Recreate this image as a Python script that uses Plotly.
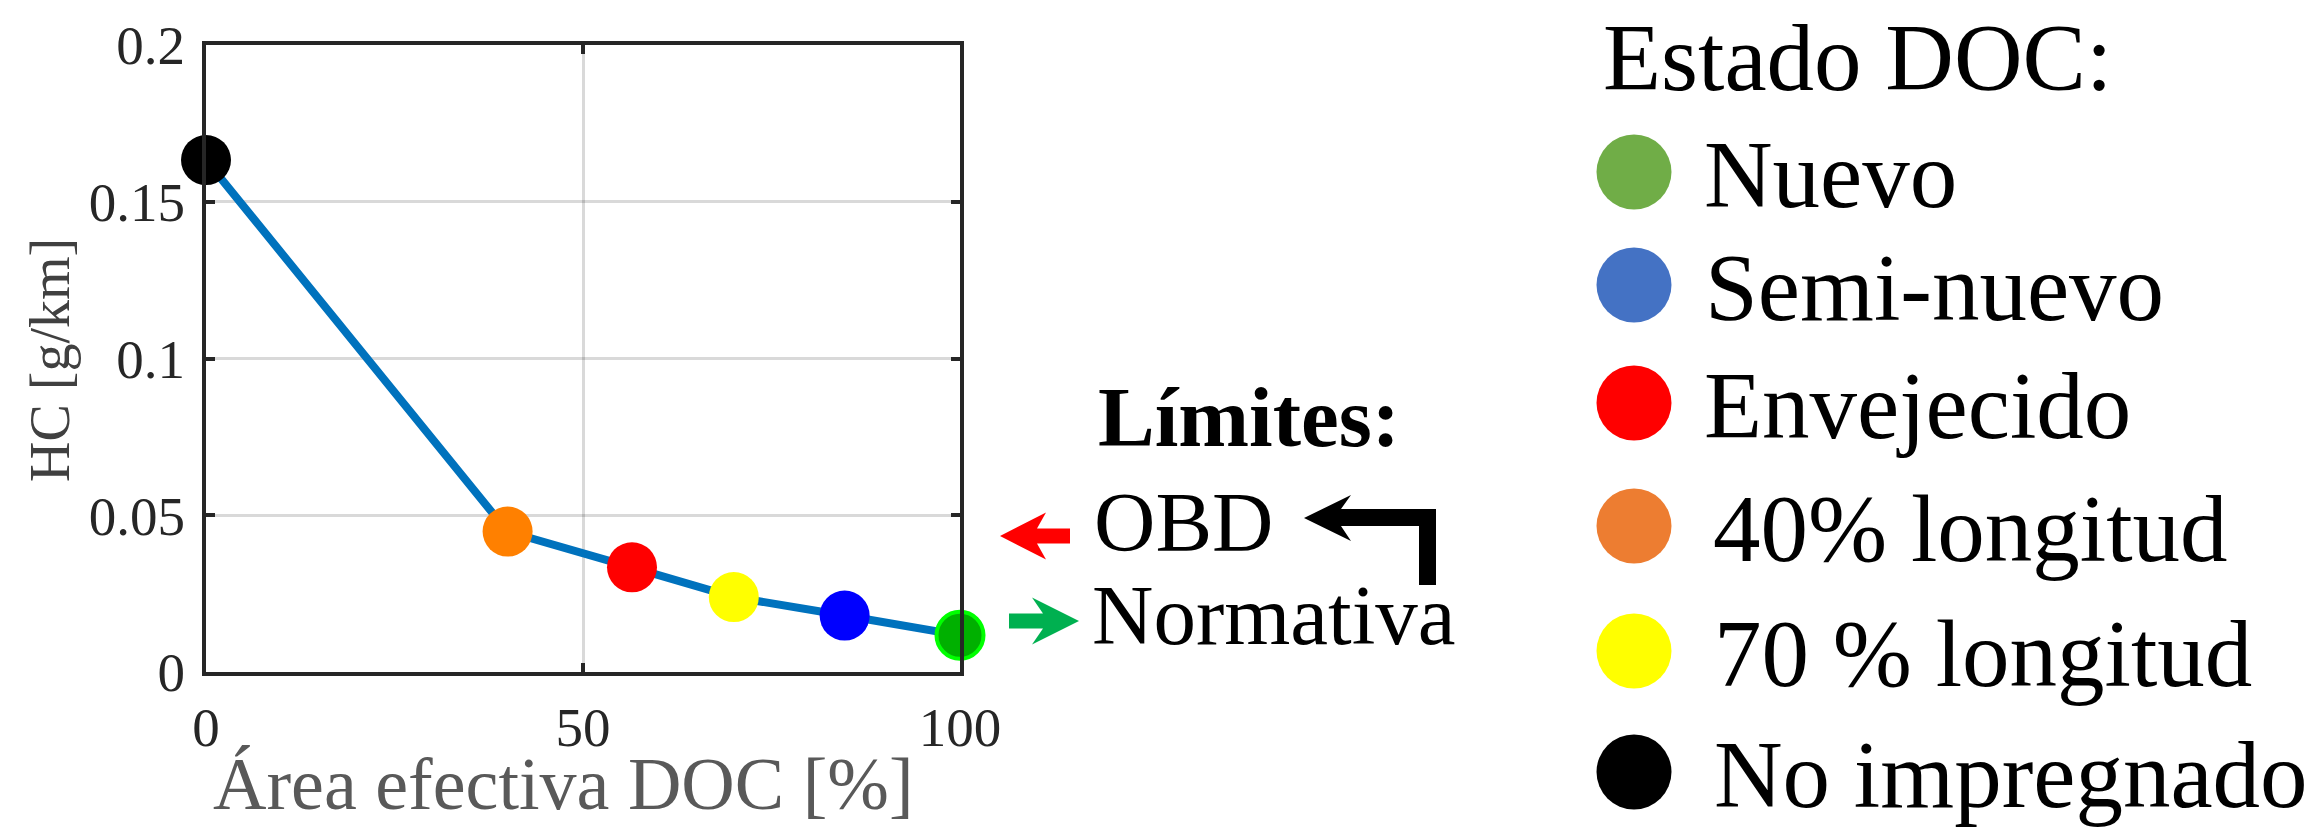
import plotly.graph_objects as go

W, H = 2317, 828

# ---------------- data ----------------
area_pct = [0, 40, 56.5, 70, 84.7, 100]
hc_gkm = [0.1633, 0.0448, 0.0334, 0.0239, 0.0180, 0.0117]
point_colors = ["#000000", "#FF8000", "#FF0000", "#FFFF00", "#0000FF", "#00B000"]
point_edge_colors = ["#000000", "#FF8000", "#FF0000", "#FFFF00", "#0000FF", "#00FF00"]
point_edge_widths = [0, 0, 0, 0, 0, 4]

x_tickvals = [0, 50, 100]
x_ticktext = ["0", "50", "100"]
y_tickvals = [0, 0.05, 0.1, 0.15, 0.2]
y_ticktext = ["0", "0.05", "0.1", "0.15", "0.2"]

x_title = "Área efectiva DOC [%]"
y_title = "HC [g/km]"

legend_title = "Estado DOC:"
legend_labels = ["Nuevo", "Semi-nuevo", "Envejecido", "40% longitud", "70 % longitud", "No impregnado"]
legend_colors = ["#70AD47", "#4472C4", "#FF0000", "#ED7D31", "#FFFF00", "#000000"]

limits_title = "Límites:"
limits_labels = ["OBD", "Normativa"]

# ---------------- layout geometry (pixels) ----------------
PLOT_L, PLOT_R, PLOT_T, PLOT_B = 206, 960, 45, 672
LEG_CIRCLE_X = 1634
LEG_ROW_Y = [172, 285, 403, 526, 651, 772]
LEG_TEXT_X = [1702, 1703, 1702, 1711, 1712, 1712]
LEG_TITLE_X, LEG_TITLE_Y = 1601, 58
LIM_TITLE_X, LIM_TITLE_Y = 1096, 417
LIM_TEXT_X = [1092, 1090]
LIM_TEXT_Y = [522, 615]

SERIF = "Liberation Serif, Times New Roman, serif"


def px(x):
    return x / W


def py(y):
    return 1 - y / H


fig = go.Figure()

# main curve
fig.add_trace(go.Scatter(
    x=area_pct, y=hc_gkm, mode="lines+markers",
    line=dict(color="#0072BD", width=8),
    marker=dict(size=[50, 50, 50, 50, 50, 47], color=point_colors, opacity=1,
                line=dict(color=point_edge_colors, width=point_edge_widths)),
    cliponaxis=False, showlegend=False, hoverinfo="x+y",
    xaxis="x", yaxis="y",
))

# custom legend circles on a full-figure pixel axis (invisible)
fig.add_trace(go.Scatter(
    x=[LEG_CIRCLE_X] * len(legend_labels), y=LEG_ROW_Y, mode="markers",
    marker=dict(size=75, color=legend_colors, opacity=1, line=dict(width=0)),
    cliponaxis=False, showlegend=False, hoverinfo="text", text=legend_labels,
    xaxis="x2", yaxis="y2",
))

annotations = []
# axis titles
annotations.append(dict(x=px(563), y=py(784), xref="paper", yref="paper", text=x_title,
                        showarrow=False, xanchor="center", yanchor="middle",
                        font=dict(family=SERIF, size=74, color="#595959")))
annotations.append(dict(x=px(50), y=py(360), xref="paper", yref="paper", text=y_title,
                        showarrow=False, xanchor="center", yanchor="middle", textangle=-90,
                        font=dict(family=SERIF, size=56, color="#404040")))
# legend
annotations.append(dict(x=px(LEG_TITLE_X), y=py(LEG_TITLE_Y), xref="paper", yref="paper",
                        text=legend_title, showarrow=False, xanchor="left", yanchor="middle",
                        font=dict(family=SERIF, size=95, color="#000000")))
for lab, tx, ty in zip(legend_labels, LEG_TEXT_X, LEG_ROW_Y):
    annotations.append(dict(x=px(tx), y=py(ty + 3), xref="paper", yref="paper", text=lab,
                            showarrow=False, xanchor="left", yanchor="middle",
                            font=dict(family=SERIF, size=95, color="#000000")))
# limits block
annotations.append(dict(x=px(LIM_TITLE_X), y=py(LIM_TITLE_Y), xref="paper", yref="paper",
                        text="<b>" + limits_title + "</b>", showarrow=False,
                        xanchor="left", yanchor="middle",
                        font=dict(family=SERIF, size=85, color="#000000")))
for lab, tx, ty in zip(limits_labels, LIM_TEXT_X, LIM_TEXT_Y):
    annotations.append(dict(x=px(tx), y=py(ty), xref="paper", yref="paper", text=lab,
                            showarrow=False, xanchor="left", yanchor="middle",
                            font=dict(family=SERIF, size=85, color="#000000")))

# decorative arrows (pixel overlay coordinates)
red_arrow = "M 1070,528.5 L 1037,528.5 L 1046,512.5 L 1000,536 L 1046,559.5 L 1037,543.5 L 1070,543.5 Z"
green_arrow = "M 1009,613.5 L 1043,613.5 L 1032,597.5 L 1079,621 L 1032,644.5 L 1043,628.5 L 1009,628.5 Z"
black_arrow = ("M 1436,585 L 1436,509 L 1341,509 L 1351,495 L 1304,518 L 1351,541 "
               "L 1341,526 L 1419,526 L 1419,585 Z")
shapes = []
for path, col in [(red_arrow, "#FF0000"), (green_arrow, "#00B050"), (black_arrow, "#000000")]:
    shapes.append(dict(type="path", path=path, xref="x2", yref="y2",
                       fillcolor=col, line=dict(width=0), layer="above"))

axis_common = dict(
    showline=True, linecolor="#262626", linewidth=4, mirror="ticks",
    ticks="inside", ticklen=9, tickwidth=4, tickcolor="#262626",
    showgrid=True, gridcolor="rgba(0,0,0,0.15)", gridwidth=3,
    zeroline=False, automargin=False,
    tickfont=dict(family=SERIF, size=55, color="#262626"),
    layer="above traces",
)

fig.update_layout(
    width=W, height=H,
    margin=dict(l=0, r=0, t=0, b=0),
    paper_bgcolor="white", plot_bgcolor="rgba(0,0,0,0)",
    showlegend=False,
    xaxis=dict(domain=[px(PLOT_L), px(PLOT_R)], range=[0, 100],
               tickvals=x_tickvals, ticktext=x_ticktext, ticklabelstandoff=4,
               anchor="y", **axis_common),
    yaxis=dict(domain=[py(PLOT_B), py(PLOT_T)], range=[0, 0.2],
               tickvals=y_tickvals, ticktext=y_ticktext, ticklabelstandoff=6,
               anchor="x", **axis_common),
    xaxis2=dict(domain=[0, 1], range=[0, W], visible=False,
                anchor="y2", fixedrange=True, showgrid=False, zeroline=False),
    yaxis2=dict(domain=[0, 1], range=[H, 0], visible=False, anchor="x2",
                fixedrange=True, showgrid=False, zeroline=False),
    annotations=annotations,
    shapes=shapes,
)

fig.write_html("out.html")
